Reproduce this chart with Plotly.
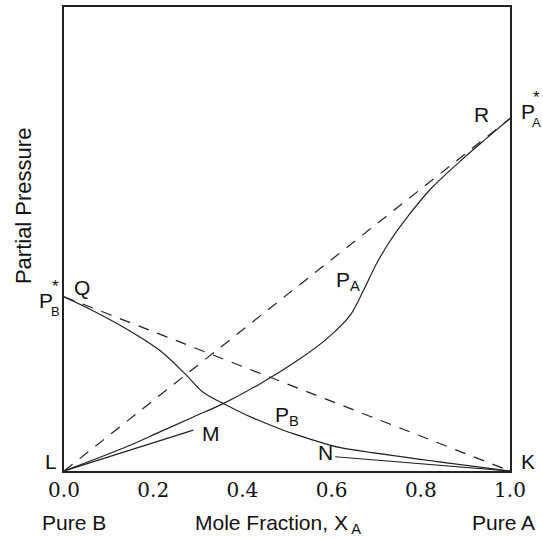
import plotly.graph_objects as go

# --- data (mole fraction of A vs partial pressure, arbitrary units) ---
PA_STAR = 354
PB_STAR = 175

pa_x = [0.0, 0.14, 0.215, 0.29, 0.357, 0.44, 0.529, 0.589, 0.641, 0.671, 0.70, 0.731, 0.768, 0.821, 0.888, 0.948, 1.0]
pa_y = [0.0, 24.3, 39.3, 54.3, 67.7, 87.7, 112.7, 132.7, 156.0, 181.0, 207.7, 231.0, 254.0, 282.7, 311.0, 334.3, 354.0]

pb_x = [0.0, 0.065, 0.14, 0.215, 0.275, 0.312, 0.357, 0.41, 0.469, 0.514, 0.589, 0.62, 1.0]
pb_y = [175.0, 161.0, 142.7, 121.0, 96.0, 79.0, 67.7, 56.0, 45.0, 37.5, 27.0, 23.5, 0.0]

ideal_a_x = [0.0, 1.0]
ideal_a_y = [0.0, PA_STAR]
ideal_b_x = [0.0, 1.0]
ideal_b_y = [PB_STAR, 0.0]

henry_m_x = [0.0, 0.29]
henry_m_y = [0.0, 41.0]
henry_n_x = [0.608, 1.0]
henry_n_y = [14.3, 0.0]

tick_vals = [0.0, 0.2, 0.4, 0.6, 0.8, 1.0]
tick_text = ["0.0", "0.2", "0.4", "0.6", "0.8", "1.0"]

LINE = "#222222"
SANS = "Liberation Sans, Arial, sans-serif"

fig = go.Figure()

def add_line(x, y, dash="solid", shape="linear"):
    fig.add_trace(go.Scatter(x=x, y=y, mode="lines",
                             line=dict(color=LINE, width=1.2, dash=dash, shape=shape),
                             cliponaxis=False, showlegend=False, hoverinfo="skip"))

add_line(ideal_a_x, ideal_a_y, dash="11px,9px")
add_line(ideal_b_x, ideal_b_y, dash="11px,9px")
add_line(pa_x, pa_y, shape="spline")
add_line(pb_x, pb_y, shape="spline")
add_line(henry_m_x, henry_m_y)
add_line(henry_n_x, henry_n_y)

ann = []
def lab(text, x, y, size=21, xref="x", yref="y", angle=0, family=SANS):
    ann.append(dict(text=text, x=x, y=y, xref=xref, yref=yref, showarrow=False,
                    textangle=angle, font=dict(family=family, size=size, color="#111111"),
                    xanchor="center", yanchor="middle"))

# point labels (data coordinates)
lab("M", 0.33, 38)
lab("N", 0.587, 19)
lab("P<sub>B</sub>", 0.50, 55)
lab("P<sub>A</sub>", 0.637, 191)
lab("Q", 0.04, 184)
lab("R", 0.937, 358)

# labels outside the plot area (paper coordinates)
lab("L", -0.029, 0.0215, xref="paper", yref="paper")
lab("K", 1.04, 0.0215, xref="paper", yref="paper")
lab("P", -0.041, 0.367, xref="paper", yref="paper")
lab("*", -0.019, 0.397, size=17, xref="paper", yref="paper")
lab("B", -0.019, 0.343, size=13, xref="paper", yref="paper")
lab("P", 1.040, 0.775, xref="paper", yref="paper")
lab("*", 1.059, 0.805, size=17, xref="paper", yref="paper")
lab("A", 1.059, 0.751, size=13, xref="paper", yref="paper")

lab("Pure B", 0.0224, -0.112, xref="paper", yref="paper")
lab("Mole Fraction, X<sub> A</sub>", 0.48, -0.114, xref="paper", yref="paper")
lab("Pure A", 0.9865, -0.112, xref="paper", yref="paper")
lab("Partial Pressure", -0.092, 0.573, size=22, xref="paper", yref="paper", angle=-90)

fig.update_layout(
    width=543, height=539,
    margin=dict(l=64, r=33, t=5, b=68),
    paper_bgcolor="white", plot_bgcolor="white",
    annotations=ann,
    xaxis=dict(range=[0, 1], tickvals=tick_vals, ticktext=tick_text,
               tickfont=dict(family="DejaVu Serif, serif", size=20, color="#111111"),
               ticks="", showgrid=False, zeroline=False,
               showline=True, mirror=True, linecolor=LINE, linewidth=1.5),
    yaxis=dict(range=[0, 466], showticklabels=False, ticks="", showgrid=False,
               zeroline=False, showline=True, mirror=True, linecolor=LINE, linewidth=1.5),
)

fig.write_html("out.html", config={"displayModeBar": False},
               post_script="document.body.style.margin='0';document.body.style.padding='0';")
